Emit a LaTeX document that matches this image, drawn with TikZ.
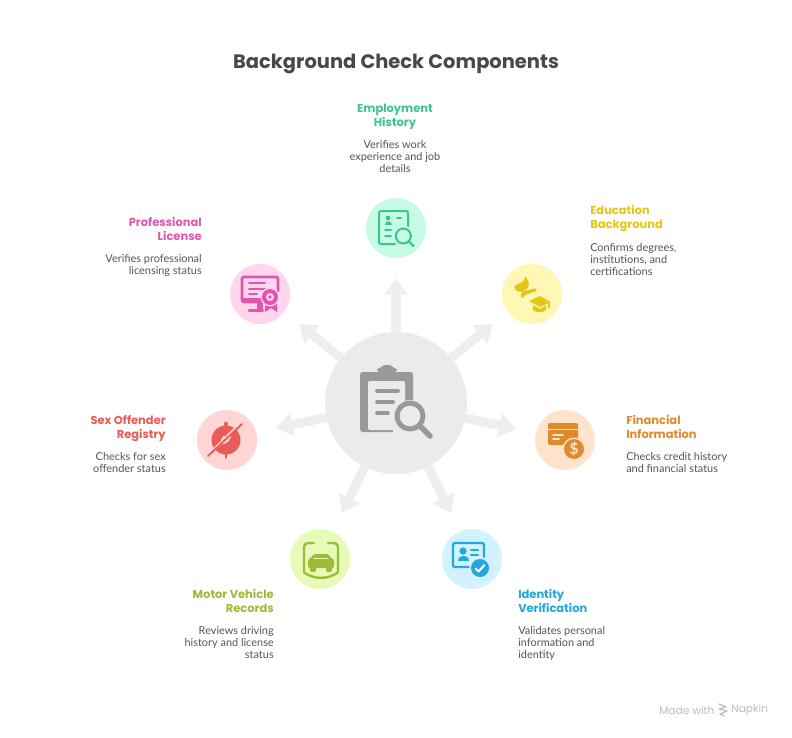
\documentclass[tikz,border=0pt]{standalone}
\usepackage{fontspec}
\setmainfont{Lato}
\newfontfamily\headfont{Poppins}
\usetikzlibrary{arrows.meta}
\definecolor{hubc}{HTML}{EBEBEB}
\definecolor{iconc}{HTML}{999999}
\definecolor{arrowc}{HTML}{EEEEEE}
\definecolor{bodyc}{HTML}{555555}
\definecolor{titlec}{HTML}{484848}
\definecolor{footc}{HTML}{BDBDBD}
\definecolor{mintbg}{HTML}{C6FBE6}\definecolor{mint}{HTML}{3CC48D}
\definecolor{yelbg}{HTML}{FFF7B3}\definecolor{yel}{HTML}{E3C714}
\definecolor{orbg}{HTML}{FFE4CC}\definecolor{ora}{HTML}{E08A2E}
\definecolor{blubg}{HTML}{D2F2FF}\definecolor{blu}{HTML}{22A7DE}
\definecolor{grnbg}{HTML}{E6FBB8}\definecolor{grn}{HTML}{9DBB38}
\definecolor{redbg}{HTML}{FFD5D5}\definecolor{redc}{HTML}{E85B56}
\definecolor{pnkbg}{HTML}{FFD6EE}\definecolor{pnk}{HTML}{E055AE}
\tikzset{
  x=0.75pt,y=-0.75pt,
  hubnode/.style={circle,fill=hubc,minimum size=106.5pt,inner sep=0pt},
  leaf/.style={circle,fill=#1,minimum size=45pt,inner sep=0pt},
  spoke/.style={draw=arrowc,line width=6.8pt,-{Triangle[length=12.5pt,width=17pt]}},
  head/.style={inner sep=0pt,text depth=2pt,font=\headfont\bfseries\fontsize{8.6pt}{10.5pt}\selectfont,text=#1},
  desc/.style={inner sep=0pt,text depth=2pt,font=\fontsize{8.2pt}{9pt}\selectfont,text=bodyc},
  ln/.style={line width=#1*0.75pt,line cap=round,line join=round}
}
\begin{document}
\begin{tikzpicture}
\useasboundingbox (0,0) rectangle (792,738);
\fill[white] (0,0) rectangle (792,738);
\node[inner sep=0pt,font=\headfont\bfseries\fontsize{14.6pt}{18pt}\selectfont,text=titlec] (title) at (396,64) {Background Check Components};

\node[hubnode] (hub) at (396,403) {};
\node[leaf=mintbg] (emp) at (396,228) {};
\node[leaf=yelbg] (edu) at (532,294) {};
\node[leaf=orbg] (fin) at (565,440) {};
\node[leaf=blubg] (ide) at (472,559) {};
\node[leaf=grnbg] (mot) at (320,559) {};
\node[leaf=redbg] (sex) at (227,440) {};
\node[leaf=pnkbg] (pro) at (260,294) {};

\coordinate (tipemp) at (396,278);
\coordinate (tipedu) at (493,324);
\coordinate (tipfin) at (516,429);
\coordinate (tipide) at (451,513);
\coordinate (tipmot) at (342,513);
\coordinate (tipsex) at (276,428);
\coordinate (tippro) at (299,324);
\foreach \t in {emp,edu,fin,ide,mot,sex,pro}{\draw[spoke] (hub) -- (tip\t);}

% Hub icon
\begin{scope}[shift={(396,403)}]
  \fill[iconc,rounded corners=2pt] (-36,-31) rectangle (17,29);
  \fill[iconc,rounded corners=2pt] (-19,-31) -- (-19,-35) .. controls (-14,-35) and (-14,-38) .. (-9,-38) .. controls (-4,-38) and (-4,-35) .. (1,-35) -- (1,-31) -- cycle;
  \fill[hubc,rounded corners=1.5pt] (-28,-22) rectangle (9,27);
  \draw[iconc,ln=3.7] (-19,-12) -- (2,-12) (-19,-1) -- (-3,-1) (-19,10) -- (-8,10);
  \fill[hubc] (14,13) circle[radius=16];
  \fill[hubc] (-3,20) rectangle (19,31);
  \draw[iconc,ln=5] (14,13) circle[radius=13];
  \draw[iconc,ln=5.5] (24,23) -- (34,33);
\end{scope}

% Employment icon
\begin{scope}[shift={(396,228)},draw=mint]
  \draw[ln=2,rounded corners=1.5pt] (-1,16) -- (-17,16) -- (-17,-17) -- (12,-17) -- (12,-2);
  \fill[mint] (-8,-10) circle[radius=2.4];
  \fill[mint] (-11.5,-3) .. controls (-11.5,-8) and (-4.5,-8) .. (-4.5,-3) -- cycle;
  \draw[ln=2] (1,-10) -- (5,-10) (-11,2) -- (-5,2) (-11,8) -- (-5,8);
  \fill[mintbg] (7.3,8) circle[radius=9.5];
  \draw[ln=2] (7.3,8) circle[radius=7.5];
  \draw[ln=2.2] (12.8,13.5) -- (17.5,18);
\end{scope}

% Education icon
\begin{scope}[shift={(532,294)}]
  \fill[yel,rounded corners=1pt] (-18,-8) -- (-8,-13) -- (-7,-18) -- (-3,-12) -- (-4,-6) -- (-10,-2) -- (-16,-3) -- cycle;
  \fill[yel,rounded corners=1pt] (-11,-2) -- (4,-6) -- (5,-3) -- (-7,1) -- (-9,4) -- (-11,4) -- cycle;
  \fill[yel] (-3,7) -- (8,2) -- (18,8) -- (8,13) -- cycle;
  \fill[yel] (1,11) -- (8,15) -- (14,11) -- (14,16) .. controls (11,19) and (5,19) .. (1,16) -- cycle;
  \draw[yel,ln=1.2] (17,8) -- (17,14);
\end{scope}

% Financial icon
\begin{scope}[shift={(565,440)}]
  \fill[ora,rounded corners=1.5pt] (-17,-17) rectangle (13,5);
  \draw[orbg,line width=0.9pt] (-17,-10.5) -- (13,-10.5);
  \draw[orbg,ln=1.6] (-12,-5) -- (-2,-5) (-12,-1) -- (-6,-1);
  \fill[orbg] (9,9) circle[radius=11.5];
  \fill[ora] (9,9) circle[radius=10];
  \node[inner sep=0pt,text=orbg,font=\bfseries\fontsize{11.5pt}{11.5pt}\selectfont] (dollar) at (9,9) {\$};
\end{scope}

% Identity icon
\begin{scope}[shift={(472,559)}]
  \draw[blu,ln=2.3,rounded corners=1.5pt] (-3,8) -- (-19,8) -- (-19,-16) -- (12,-16) -- (12,-2);
  \fill[blu] (-9,-8) circle[radius=3.6];
  \fill[blu] (-14.5,2) .. controls (-14.5,-5) and (-3.5,-5) .. (-3.5,2) -- cycle;
  \draw[blu,ln=2.2] (-1,-9) -- (6,-9) (-1,-4) -- (6,-4);
  \fill[blubg] (8,9) circle[radius=10.5];
  \fill[blu] (8,9) circle[radius=9];
  \draw[white,ln=2] (3.5,9.5) -- (6.5,12.5) -- (12.5,6);
\end{scope}

% Motor icon
\begin{scope}[shift={(320,559)}]
  \draw[grn,ln=2.4,rounded corners=3pt] (-6,-16) -- (-16,-16) -- (-16,9) .. controls (-16,14) and (-9,18) .. (1,19) .. controls (11,18) and (18,14) .. (18,9) -- (18,-16) -- (8,-16);
  \fill[grn,rounded corners=1.5pt] (-7,-5) -- (9,-5) -- (11,0) -- (14,0) -- (14,9) -- (-12,9) -- (-12,0) -- (-9,0) -- cycle;
  \fill[grn,rounded corners=1pt] (-10,7) rectangle (-4,13) (6,7) rectangle (12,13);
  \draw[grnbg,ln=1] (-6,-1) -- (8,-1);
\end{scope}

% Sex offender icon
\begin{scope}[shift={(227,440)}]
  \fill[redc] (-1,0) circle[radius=14.5];
  \fill[redc] (-1,-16) circle[radius=2.2];
  \draw[redc,ln=1.5] (-1,12) -- (-1,18);
  \fill[redbg] (-6,4) .. controls (-7,-3) and (-2,-7) .. (4,-7) .. controls (5,-2) and (1,5) .. (-6,4) -- cycle;
  \fill[redc] (-2,-6) circle[radius=2.5];
  \draw[redbg,ln=3] (-16,12.5) -- (12,-15);
  \draw[redc,ln=1.8] (-19,16) -- (15,-16);
\end{scope}

% Professional icon
\begin{scope}[shift={(260,294)}]
  \draw[pnk,ln=2.6,rounded corners=1.5pt] (-1,8) -- (-18,8) -- (-18,-17) -- (18,-17) -- (18,-3);
  \fill[pnk] (-18,3.5) rectangle (3,9);
  \draw[pnk,ln=2] (-11,-11) -- (5,-11) (-11,-5.5) -- (5,-5.5) (-11,-0.5) -- (-3,-0.5);
  \fill[pnk] (-3,8) rectangle (3,17);
  \draw[pnk,ln=2.4] (-11,16.5) -- (3,16.5);
  \fill[pnk] (5,5) -- (17,5) -- (17,18) -- (11,14) -- (5,18) -- cycle;
  \fill[pnkbg] (10,3) circle[radius=9.5];
  \fill[pnk] (10,3) circle[radius=8];
  \fill[pnkbg] (10,3) circle[radius=4];
  \fill[pnk] (10,3) circle[radius=1.8];
\end{scope}

% Labels
\node[head=mint,align=center] (emph) at (395,116.5) {Employment\\History};
\node[desc,align=center] (empd) at (395,158) {Verifies work\\experience and job\\details};
\node[head=yel,align=left,anchor=west] (eduh) at (590,218.5) {Education\\Background};
\node[desc,align=left,anchor=west] (edud) at (590,261) {Confirms degrees,\\institutions, and\\certifications};
\node[head=ora,align=left,anchor=west] (finh) at (626,428.5) {Financial\\Information};
\node[desc,align=left,anchor=west] (find) at (626,464) {Checks credit history\\and financial status};
\node[head=blu,align=left,anchor=west] (ideh) at (518,602.5) {Identity\\Verification};
\node[desc,align=left,anchor=west] (ided) at (518,644) {Validates personal\\information and\\identity};
\node[head=grn,align=right,anchor=east] (moth) at (274,602.5) {Motor Vehicle\\Records};
\node[desc,align=right,anchor=east] (motd) at (274,644) {Reviews driving\\history and license\\status};
\node[head=redc,align=right,anchor=east] (sexh) at (166,428.5) {Sex Offender\\Registry};
\node[desc,align=right,anchor=east] (sexd) at (166,464) {Checks for sex\\offender status};
\node[head=pnk,align=right,anchor=east] (proh) at (202,230.5) {Professional\\License};
\node[desc,align=right,anchor=east] (prod) at (202,266) {Verifies professional\\licensing status};

% Footer
\node[inner sep=0pt,anchor=west,text=footc,font=\headfont\fontsize{8pt}{10pt}\selectfont] (made) at (659,710) {Made with};
\draw[footc,ln=1.2] (719,704) -- (726,707) -- (719,709) -- (727,711) -- (720,714) -- (724,716);
\node[inner sep=0pt,anchor=west,text=footc,font=\headfont\fontsize{8pt}{10pt}\selectfont] (napkin) at (731,710) {Napkin};
\end{tikzpicture}
\end{document}
